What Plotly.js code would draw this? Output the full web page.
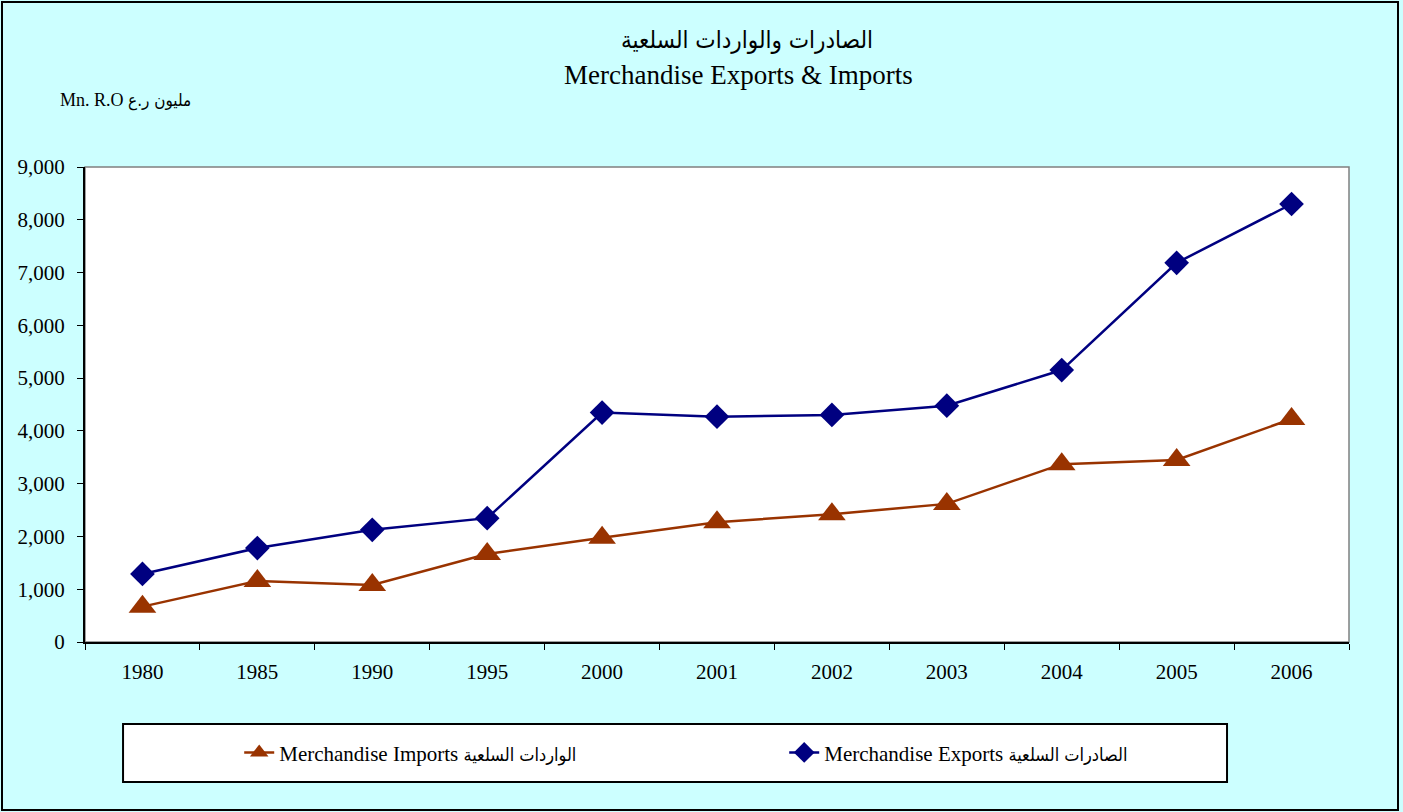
<!DOCTYPE html>
<html>
<head>
<meta charset="utf-8">
<script src="https://cdn.plot.ly/plotly-3.0.1.min.js"></script>
<style>
  html, body { margin: 0; padding: 0; background: #CCFFFF; }
  #wrap { position: relative; width: 1403px; height: 812px; }
  #chart { width: 1403px; height: 812px; }
  #frame { position: absolute; left: 1px; top: 1px; width: 1394px; height: 806px; border: 2px solid #000; pointer-events: none; }
</style>
</head>
<body>
<div id="wrap">
  <div id="chart"></div>
  <div id="frame"></div>
</div>
<script>
const years = ['1980', '1985', '1990', '1995', '2000', '2001', '2002', '2003', '2004', '2005', '2006'];
const exportsVals = [1290, 1780, 2125, 2347, 4347, 4270, 4302, 4478, 5153, 7184, 8299];
const importsVals = [670, 1155, 1080, 1667, 1974, 2271, 2422, 2617, 3370, 3450, 4225];
const exportsEn = 'Merchandise Exports';
const exportsAr = 'الصادرات السلعية';
const importsEn = 'Merchandise Imports';
const importsAr = 'الواردات السلعية';
const titleAr = 'الصادرات والواردات السلعية';
const titleEn = 'Merchandise Exports &amp; Imports';
const unitEn = 'Mn. R.O';
const unitAr = 'مليون ر.ع';

const serif = '"Liberation Serif", "Times New Roman", "DejaVu Serif", serif';
const arab = '\'DejaVu Sans Condensed\', \'DejaVu Sans\', sans-serif';
function ar(t, size) {
  return '<span style="font-family:' + arab + ';font-size:' + size + 'px">' + t + '</span>';
}

const traces = [
  {
    x: years, y: importsVals, name: importsEn + ' ' + ar(importsAr, 18), type: 'scatter', mode: 'lines+markers',
    line: { color: '#993300', width: 2.5 },
    marker: { symbol: 'triangle-up', size: 24, color: '#993300' }
  },
  {
    x: years, y: exportsVals, name: exportsEn + ' ' + ar(exportsAr, 18), type: 'scatter', mode: 'lines+markers',
    line: { color: '#000080', width: 2.5 },
    marker: { symbol: 'diamond', size: 19, color: '#000080' }
  }
];

const layout = {
  width: 1403, height: 812,
  margin: { l: 85, r: 54, t: 167, b: 170 },
  paper_bgcolor: '#CCFFFF',
  plot_bgcolor: '#FFFFFF',
  font: { family: serif, color: '#000', size: 20 },
  showlegend: true,
  legend: {
    orientation: 'h', x: 0.122, y: -0.19, xanchor: 'left', yanchor: 'top',
    bgcolor: 'rgba(0,0,0,0)', font: { family: serif, size: 21, color: '#000' },
    entrywidth: 500, entrywidthmode: 'pixels', traceorder: 'normal'
  },
  xaxis: {
    type: 'category', range: [-0.5, 10.5], showline: true, linecolor: '#000', linewidth: 2,
    ticks: 'outside', ticklen: 6, tickcolor: '#000', tickwidth: 1, tickson: 'boundaries',
    ticklabelstandoff: 10,
    showgrid: false, zeroline: false, fixedrange: true,
    tickfont: { family: serif, size: 21, color: '#000' }
  },
  yaxis: {
    range: [0, 9000], dtick: 1000, tick0: 0, tickformat: ',d',
    showline: true, linecolor: '#000', linewidth: 2,
    ticks: 'outside', ticklen: 6, tickcolor: '#000', tickwidth: 1,
    ticklabelstandoff: 8,
    showgrid: false, zeroline: false, fixedrange: true,
    tickfont: { family: serif, size: 21, color: '#000' }
  },
  shapes: [
    { type: 'rect', xref: 'paper', yref: 'paper', x0: 0, x1: 1, y0: 0, y1: 1,
      line: { color: '#808080', width: 1.5 }, layer: 'below' },
    { type: 'rect', xref: 'paper', yref: 'paper', x0: 0.0301, x1: 0.9035, y0: -0.2947, y1: -0.1726,
      line: { color: '#000', width: 2 }, fillcolor: '#FFFFFF', layer: 'below' }
  ],
  annotations: [
    { text: ar(titleAr, 24), xref: 'paper', yref: 'paper', x: 0.524, y: 1.267, showarrow: false,
      xanchor: 'center', yanchor: 'middle', font: { family: serif, size: 24, color: '#000' } },
    { text: titleEn, xref: 'paper', yref: 'paper', x: 0.5174, y: 1.194, showarrow: false,
      xanchor: 'center', yanchor: 'middle', font: { family: serif, size: 27, color: '#000' } },
    { text: unitEn + ' ' + ar(unitAr, 17), xref: 'paper', yref: 'paper', x: -0.0214, y: 1.14, showarrow: false,
      xanchor: 'left', yanchor: 'middle', font: { family: serif, size: 18, color: '#000' } }
  ]
};

Plotly.newPlot('chart', traces, layout, { displayModeBar: false, staticPlot: true });
</script>
</body>
</html>
